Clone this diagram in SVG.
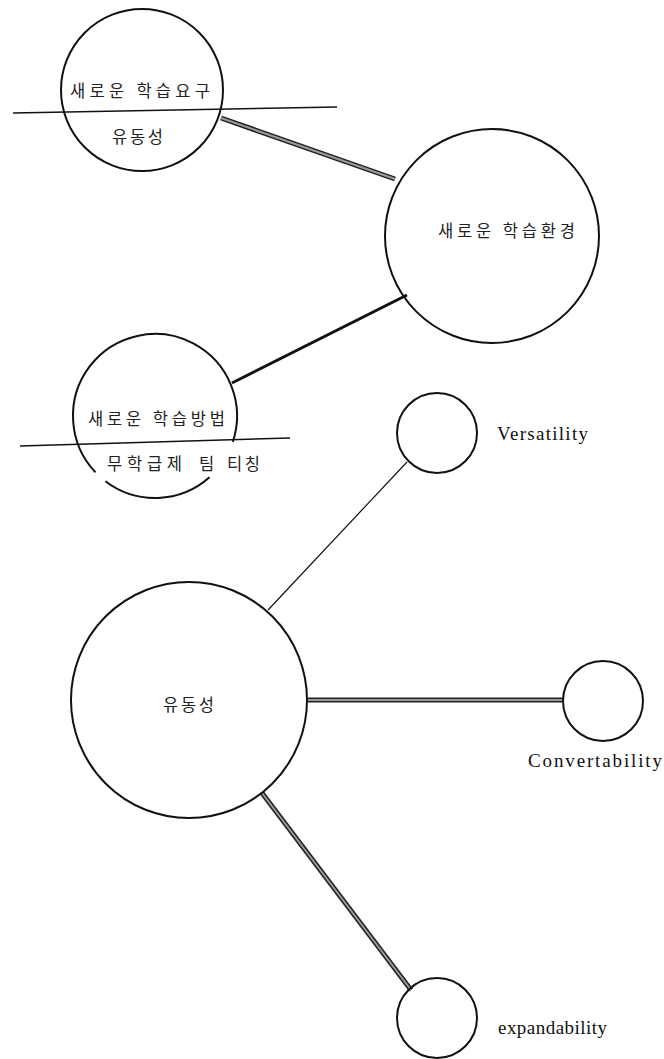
<svg xmlns="http://www.w3.org/2000/svg" width="664" height="1059" viewBox="0 0 664 1059">
<style>
.c{fill:none;stroke:#111;stroke-width:2}
.ko{font-family:"Noto Sans CJK KR","Noto Sans",sans-serif;font-size:16.5px;fill:#222}
.en{font-family:"Liberation Serif",serif;font-size:19px;fill:#111}
.rule{stroke:#111;stroke-width:1.6;fill:none}
.dblo{stroke:#222;stroke-width:5;stroke-linecap:butt}
.dbli{stroke:#9a9a9a;stroke-width:2;stroke-linecap:butt}
</style>
<rect width="664" height="1059" fill="#fff"/>
<g id="connectors">
<line class="dblo" x1="221" y1="118" x2="395" y2="179"/>
<line class="dbli" x1="221" y1="118" x2="395" y2="179"/>
<line x1="407" y1="295" x2="232" y2="383" stroke="#111" stroke-width="3"/>
<line x1="407" y1="462" x2="268" y2="610" stroke="#111" stroke-width="1.2"/>
<line class="dblo" x1="308" y1="700" x2="563" y2="700"/>
<line class="dbli" x1="308" y1="700" x2="563" y2="700"/>
<line class="dblo" x1="262" y1="793" x2="411" y2="990"/>
<line class="dbli" x1="262" y1="793" x2="411" y2="990"/>
</g>
<g id="node-need">
<circle class="c" cx="142" cy="90" r="81"/>
<line class="rule" x1="13" y1="113" x2="337" y2="107"/>
<text class="ko" x="70" y="97" textLength="140" lengthAdjust="spacing">새로운 학습요구</text>
<text class="ko" x="112" y="143" textLength="51" lengthAdjust="spacing">유동성</text>
</g>
<g id="node-environment">
<circle class="c" cx="492" cy="236" r="107"/>
<text class="ko" x="438" y="237" textLength="137" lengthAdjust="spacing">새로운 학습환경</text>
</g>
<g id="node-method">
<path class="c" d="M95.5 472.4 A82 82 0 1 1 232.8 441.9"/>
<path class="c" d="M209.5 477.3 A82 82 0 0 1 105.4 481.3"/>
<line class="rule" x1="20" y1="446" x2="290" y2="438"/>
<text class="ko" x="88" y="425" textLength="137" lengthAdjust="spacing">새로운 학습방법</text>
<text class="ko" y="470"><tspan x="107" textLength="75" lengthAdjust="spacing">무학급제</tspan><tspan x="199">팀</tspan><tspan x="227" textLength="33" lengthAdjust="spacing">티칭</tspan></text>
</g>
<g id="node-flexibility">
<circle class="c" cx="189" cy="700" r="118"/>
<text class="ko" x="163" y="711" textLength="51" lengthAdjust="spacing">유동성</text>
</g>
<g id="node-versatility">
<circle class="c" cx="437" cy="433" r="40" stroke-width="2.5"/>
<text class="en" x="497" y="440" textLength="91" lengthAdjust="spacing">Versatility</text>
</g>
<g id="node-convertability">
<circle class="c" cx="603" cy="701" r="40" stroke-width="2.5"/>
<text class="en" x="528" y="767" textLength="134" lengthAdjust="spacing">Convertability</text>
</g>
<g id="node-expandability">
<circle class="c" cx="437" cy="1018" r="40" stroke-width="2.5"/>
<text class="en" x="498" y="1034" textLength="109" lengthAdjust="spacing">expandability</text>
</g>
</svg>
